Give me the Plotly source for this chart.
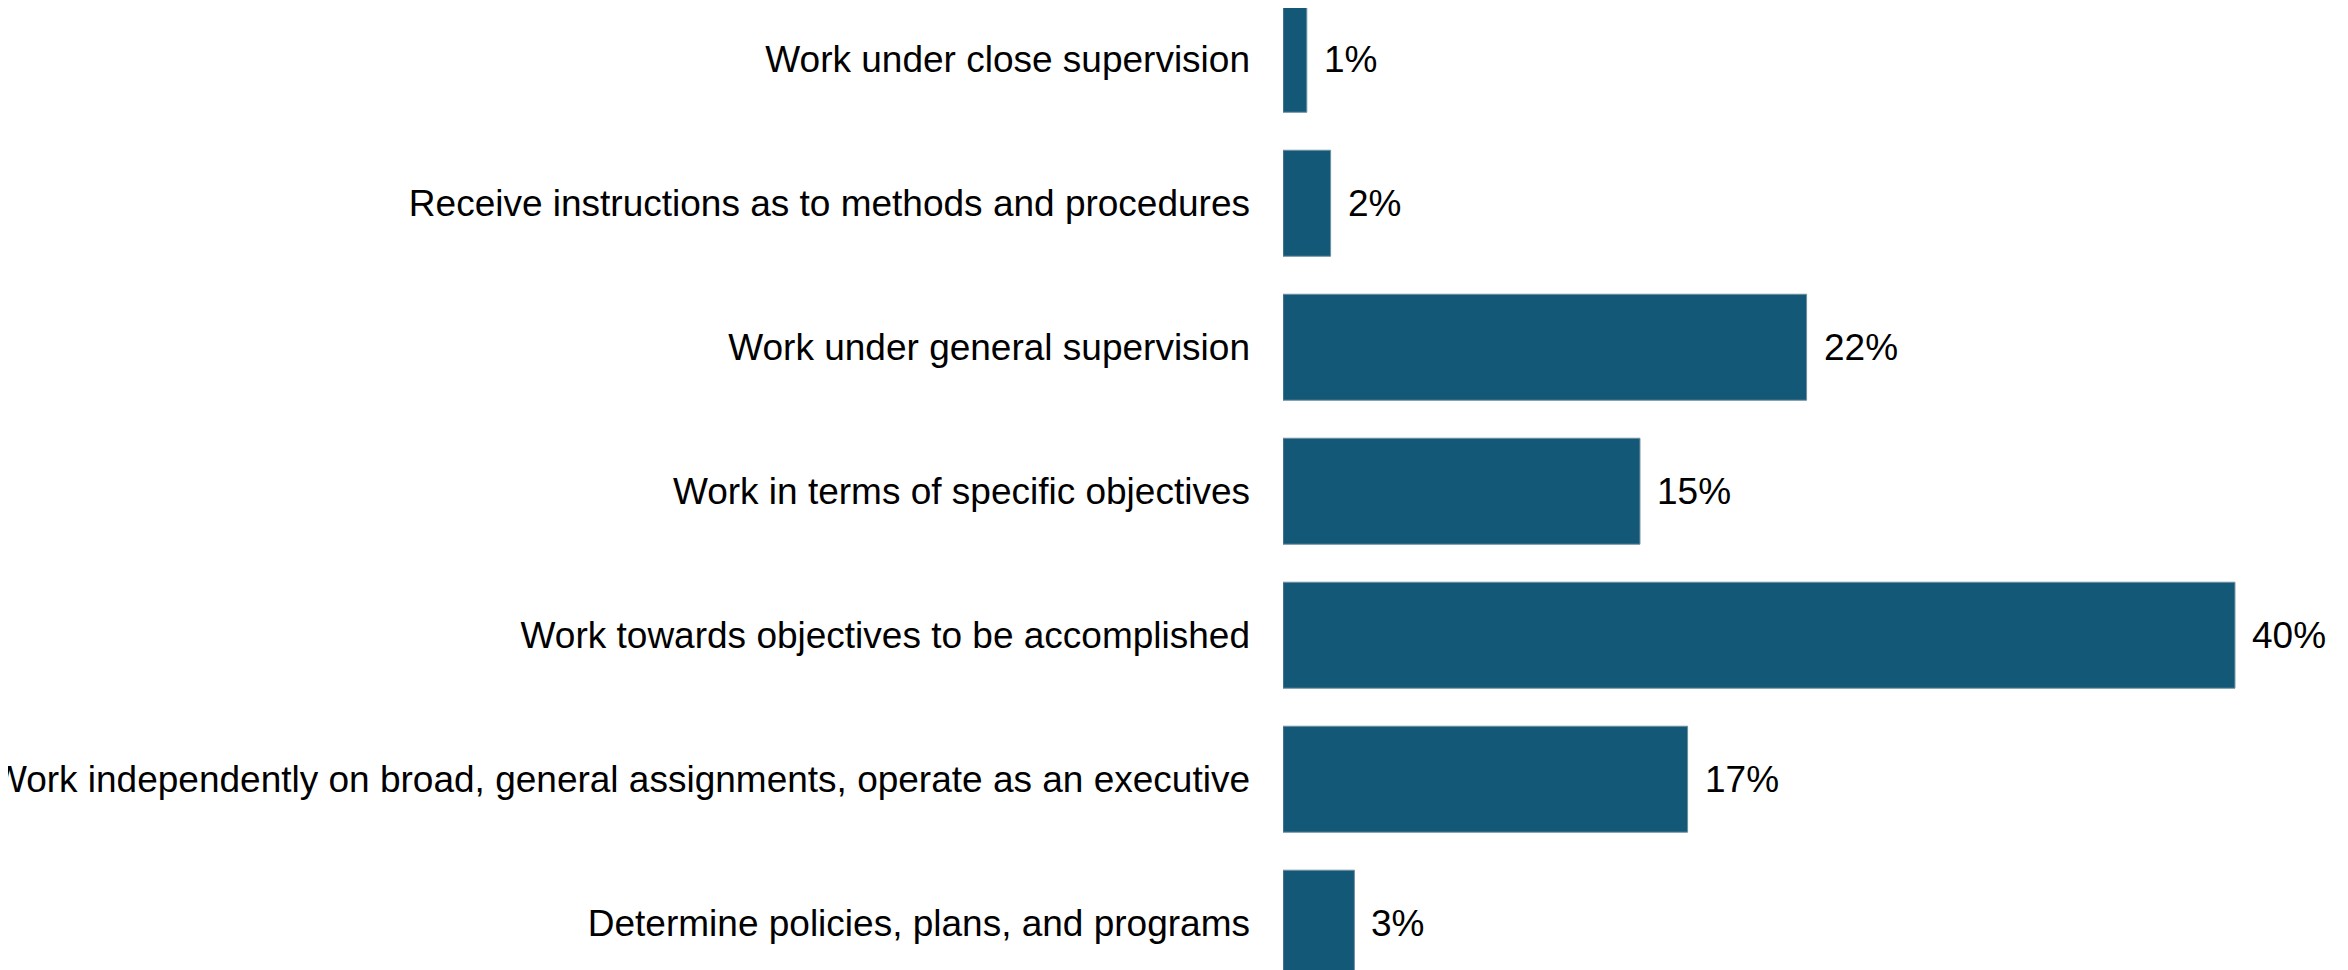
import plotly.graph_objects as go

categories = [
    "Work under close supervision",
    "Receive instructions as to methods and procedures",
    "Work under general supervision",
    "Work in terms of specific objectives",
    "Work towards objectives to be accomplished",
    "Work independently on broad, general assignments, operate as an executive",
    "Determine policies, plans, and programs",
]
values = [1, 2, 22, 15, 40, 17, 3]
value_labels = ["1%", "2%", "22%", "15%", "40%", "17%", "3%"]

bar_color = "#145878"
font_family = "Liberation Sans, Arial, sans-serif"

fig = go.Figure()
fig.add_trace(go.Bar(
    x=values,
    y=categories,
    orientation="h",
    marker=dict(color=bar_color, line=dict(color="#6f8f9e", width=1)),
    hoverinfo="skip",
))

for cat, v, lab in zip(categories, values, value_labels):
    fig.add_annotation(
        x=v, y=cat, text=lab, showarrow=False,
        xanchor="left", yanchor="middle", xshift=15,
        font=dict(family=font_family, size=37, color="#000000"),
    )

fig.update_layout(
    width=2340, height=962,
    margin=dict(l=1275, r=0, t=0, b=0, pad=0),
    paper_bgcolor="white", plot_bgcolor="white",
    bargap=0.264,
    showlegend=False,
    font=dict(family=font_family, size=37, color="#000000"),
)
fig.update_xaxes(range=[0, 44.75], visible=False, fixedrange=True)
fig.update_yaxes(
    range=[6.325, -0.356],
    showline=False, showgrid=False, zeroline=False,
    ticks="", ticklabelstandoff=32,
    tickfont=dict(family=font_family, size=37, color="#000000"),
    automargin=False,
)

fig.write_html("out.html")
